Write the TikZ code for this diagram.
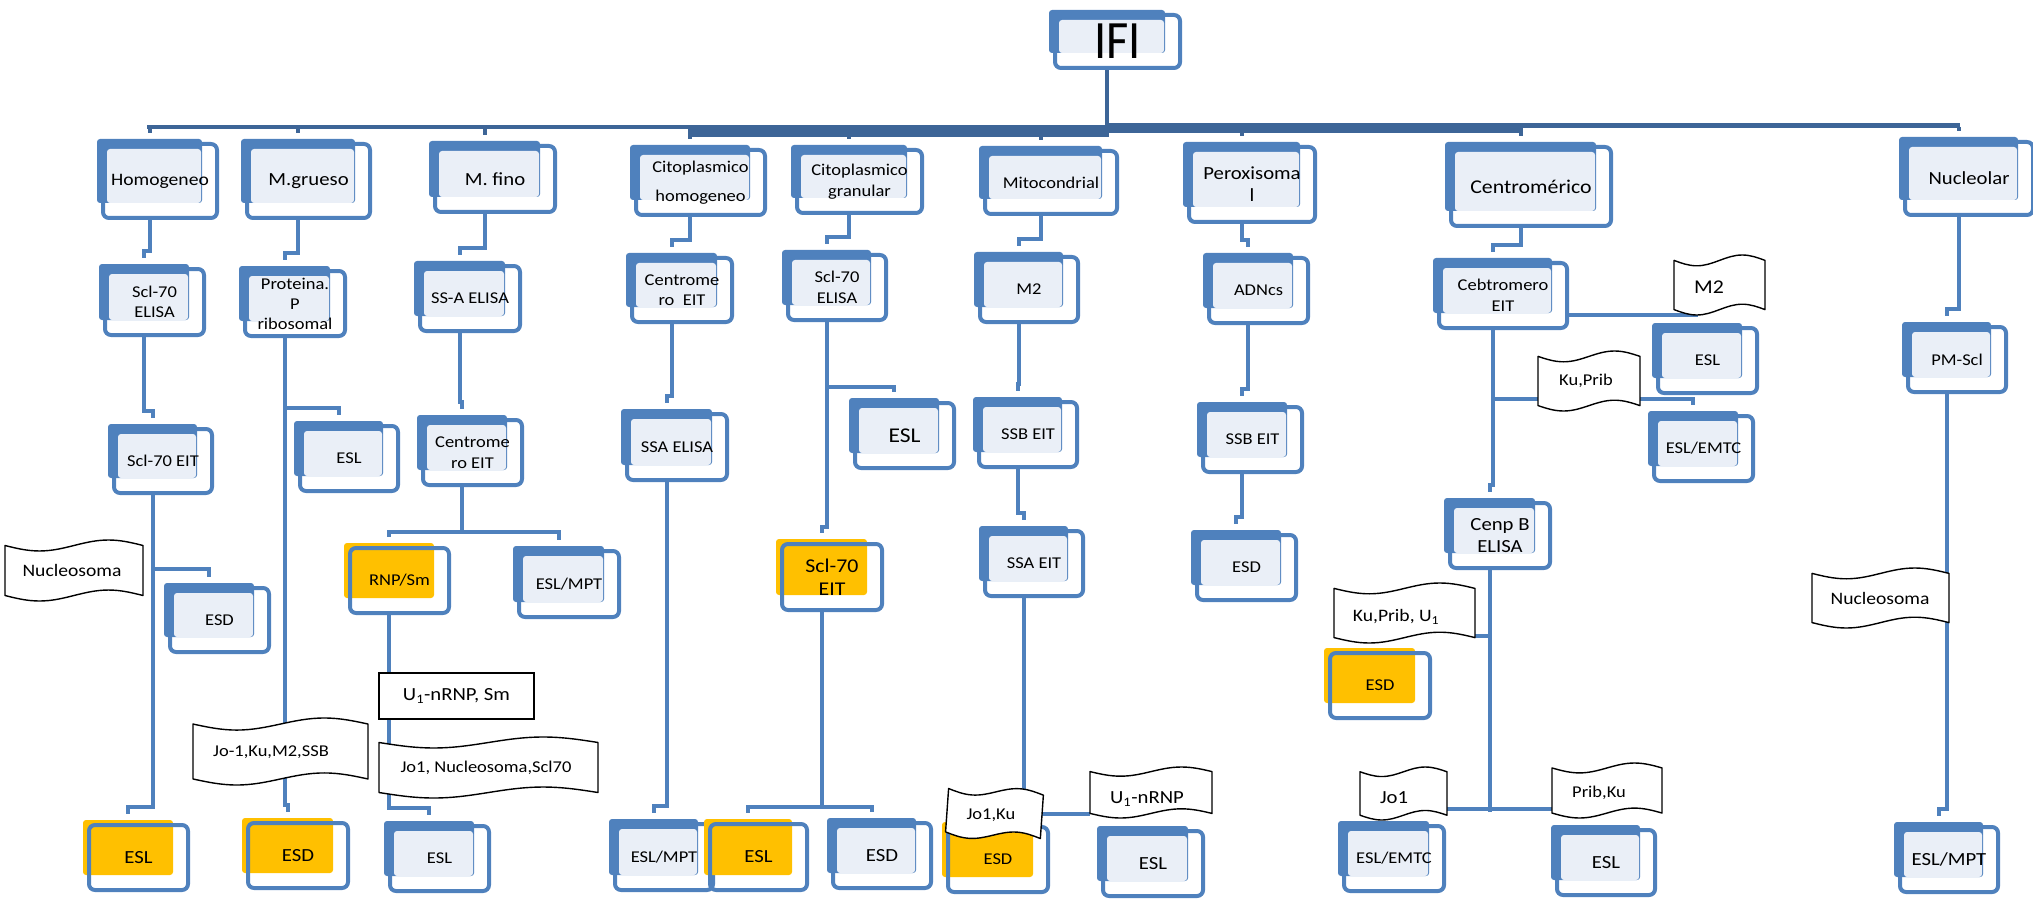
\documentclass[tikz,border=0pt]{standalone}
\usepackage{fontspec}
\setmainfont{Carlito}[FakeStretch=1.12]
\usepackage{graphicx}
\pgfdeclarelayer{bg}
\pgfsetlayers{bg,main}
\definecolor{bblue}{RGB}{79,129,189}
\definecolor{panel}{RGB}{234,239,247}
\definecolor{busc}{RGB}{61,101,151}
\definecolor{ybox}{RGB}{255,192,0}
\tikzset{
  fb/.style={draw=bblue, line width=4pt, rounded corners=6pt, inner sep=0pt, align=center, text=black},
  cn/.style={draw=bblue, line width=4pt},
  bus/.style={draw=busc, line width=4pt},
  flagline/.style={draw=black, line width=1.4pt, fill=white, line join=round},
  ftext/.style={inner sep=0pt, align=center},
  s16/.style={font=\fontsize{16.5}{20.5}\selectfont},
  s17/.style={font=\fontsize{17.5}{21}\selectfont},
  s18/.style={font=\fontsize{18.5}{22}\selectfont},
  s19/.style={font=\fontsize{19.5}{23}\selectfont},
  s21/.style={font=\fontsize{21}{25}\selectfont},
  scho/.style={font=\fontsize{16.5}{29}\selectfont},
  sifi/.style={font=\fontsize{54}{60}\selectfont},
}
% blue box: name, x0,y0,x1,y1 (back rectangle), text
\newcommand\bbx[7][s16]{%
  \fill[bblue, rounded corners=3pt] (#3,#4) rectangle (#5,#6);
  \fill[panel, rounded corners=3pt] ({#3+10},{#4+10}) rectangle ({#5-1},#6);
  \node[fb, #1, minimum width={#5-#3+9}, minimum height={#6-#4+10}] (#2) at ({(#3+#5)/2+10.5},{(#4+#6)/2+10}) {#7};
  \coordinate (#2-n) at ({(#3+#5)/2},#4);
  \coordinate (#2-s) at ({(#3+#5)/2},{#6+15});
}
% yellow box
\newcommand\ybx[7][s16]{%
  \fill[ybox, rounded corners=3pt] (#3,#4) rectangle (#5,#6);
  \node[fb, #1, minimum width={#5-#3+9}, minimum height={#6-#4+10}] (#2) at ({(#3+#5)/2+10.5},{(#4+#6)/2+10}) {#7};
  \coordinate (#2-n) at ({(#3+#5)/2},#4);
  \coordinate (#2-s) at ({(#3+#5)/2},{#6+15});
}
% wave flag: name, x0,y0,x1,y1, text x, text y, text
\newcommand\flag[9][s16]{%
  \pgfmathsetmacro\flW{#5-#3}\pgfmathsetmacro\flH{#6-#4}%
  \pgfmathsetmacro\flA{0.09*\flH}%
  \pgfmathsetmacro\flT{#4+\flA}\pgfmathsetmacro\flB{#6-\flA}%
  \pgfmathsetmacro\flQ{#3+\flW/4}\pgfmathsetmacro\flM{#3+\flW/2}\pgfmathsetmacro\flR{#3+3*\flW/4}%
  \draw[flagline] (#3,\flT) sin (\flQ,{\flT+\flA}) cos (\flM,\flT) sin (\flR,{\flT-\flA}) cos (#5,\flT)
     -- (#5,\flB) sin (\flR,{\flB-\flA}) cos (\flM,\flB) sin (\flQ,{\flB+\flA}) cos (#3,\flB) -- cycle;
  \node[inner sep=0pt, minimum width=\flW, minimum height=\flH] (#2) at ({(#3+#5)/2},{(#4+#6)/2}) {};
  \node[ftext, #1] at (#7,#8) {#9};
}
% elbow connector from parent bottom to child top
\newcommand\jog[3][13]{\draw[cn] (#2-s) |- ([yshift=#1pt]#3-n) -- ([yshift=6pt]#3-n);}
\begin{document}
\begin{tikzpicture}[x=1pt,y=-1pt]
\useasboundingbox (0,0) rectangle (2033,901);
% ---------- boxes ----------
\bbx[sifi]{ifi}{1049}{10}{1165}{53}{\scalebox{0.8}[1]{IFI}}
\bbx[s17]{hom}{97}{139}{202}{203}{Homogeneo}
\bbx[s18]{mgr}{241}{139}{355}{203}{M.grueso}
\bbx[s18]{mfi}{429}{141}{540}{197}{M. fino}
\bbx[scho]{cho}{630}{145}{750}{200}{Citoplasmico\\homogeneo}
\bbx{cgr}{791}{145}{907}{198}{Citoplasmico\\granular}
\bbx{mit}{979}{146}{1102}{199}{Mitocondrial}
\bbx[s18]{per}{1183}{142}{1300}{207}{Peroxisoma\\l}
\bbx[s19]{cen}{1445}{142}{1596}{211}{Centromérico}
\bbx[s18]{nuc}{1899}{137}{2018}{200}{Nucleolar}
% row 2
\bbx{hs70}{99}{264}{189}{320}{Scl-70\\ELISA}
\bbx[font=\fontsize{16.5}{20}\selectfont]{prp}{239}{266}{330}{321}{Proteina.\\P\\ribosomal}
\bbx{ssa}{414}{261}{505}{316}{SS-A ELISA}
\bbx{cen2}{626}{253}{717}{307}{Centrome\\ro~ EIT}
\bbx{gs70}{782}{250}{871}{305}{Scl-70\\ELISA}
\bbx{m2}{974}{252}{1063}{307}{M2}
\bbx{adn}{1203}{253}{1293}{308}{ADNcs}
\bbx{ceb}{1433}{258}{1552}{313}{Cebtromero\\EIT}
% row 3
\bbx{s70eit}{108}{424}{197}{478}{Scl-70 EIT}
\bbx{esl1}{294}{421}{383}{476}{ESL}
\bbx{cen3}{417}{415}{507}{470}{Centrome\\ro EIT}
\bbx{ssael}{621}{409}{712}{465}{SSA ELISA}
\bbx[s21]{esl2}{849}{398}{939}{453}{ESL}
\bbx{ssb1}{973}{397}{1062}{452}{SSB EIT}
\bbx{ssb2}{1197}{402}{1287}{457}{SSB EIT}
\bbx{esl3}{1652}{323}{1742}{378}{ESL}
\bbx{emtc1}{1648}{411}{1738}{466}{ESL/EMTC}
\bbx{pms}{1902}{322}{1991}{377}{PM-Scl}
\bbx[s18]{cenb}{1444}{498}{1535}{553}{Cenp B\\ELISA}
% row 4
\bbx{esd1}{164}{583}{254}{637}{ESD}
\ybx{rnp}{344}{543}{434}{598}{RNP/Sm}
\bbx{mpt1}{513}{546}{604}{602}{ESL/MPT}
\ybx[s19]{ys70}{776}{539}{867}{595}{Scl-70\\EIT}
\bbx{ssaeit}{979}{526}{1068}{581}{SSA EIT}
\bbx{esd2}{1191}{530}{1281}{585}{ESD}
\ybx{yesd}{1324}{648}{1415}{703}{ESD}
% bottom row
\ybx[s18]{yesl}{83}{820}{173}{875}{ESL}
\ybx[s18]{yesd2}{242}{818}{333}{873}{ESD}
\bbx{esl4}{384}{821}{474}{876}{ESL}
\bbx{mpt2}{609}{819}{698}{875}{ESL/MPT}
\ybx[s18]{yesl2}{704}{819}{792}{875}{ESL}
\bbx[s18]{esd3}{827}{818}{916}{873}{ESD}
\ybx{yesd3}{942}{822}{1033}{877}{ESD}
\bbx[s18]{esl5}{1097}{826}{1188}{881}{ESL}
\bbx{emtc2}{1338}{821}{1429}{876}{ESL/EMTC}
\bbx[s18]{esl6}{1551}{825}{1640}{880}{ESL}
\bbx[s18]{mpt3}{1894}{822}{1983}{877}{ESL/MPT}
% ---------- flags ----------
\flag[s17]{f1}{5}{540}{143}{601}{72}{570}{Nucleosoma}
\flag{f2}{193}{718}{368}{785}{271}{752}{Jo-1,Ku,M2,SSB}
\flag{f3}{379}{737}{598}{798}{486}{768}{Jo1, Nucleosoma,Scl70}
\begin{scope}[rotate around={-4:(994,813)}]
\flag{f4}{947}{787}{1042}{840}{991}{815}{Jo1,Ku}
\end{scope}
\flag[s18]{f5}{1090}{767}{1212}{818}{1147}{799}{U\textsubscript{1}-nRNP}
\flag[s19]{f6}{1674}{255}{1765}{315}{1709}{287}{M2}
\flag{f7}{1538}{351}{1640}{411}{1586}{381}{Ku,Prib}
\flag[s17]{f8}{1334}{583}{1475}{643}{1396}{617}{Ku,Prib, U\textsubscript{1}}
\flag[s18]{f9}{1360}{767}{1447}{820}{1394}{798}{Jo1}
\flag{f10}{1552}{763}{1662}{818}{1599}{793}{Prib,Ku}
\flag[s17]{f11}{1812}{568}{1949}{628}{1880}{598}{Nucleosoma}
\node[draw=black, line width=1.4pt, fill=white, minimum width=155, minimum height=46, inner sep=0pt, s18] (r1) at (456.5,696) {U\textsubscript{1}-nRNP, Sm};
% ---------- connectors ----------
\begin{pgfonlayer}{bg}
\draw[bus] (ifi-s) -- (ifi-s |- 0,126);
\draw[busc, line width=4pt] (147,127) -- (688,127);
\draw[busc, line width=12pt] (688,131) -- (1109,131);
\draw[busc, line width=10pt] (1109,128) -- (1522,128);
\draw[busc, line width=5pt] (1522,125.5) -- (1960,125.5);
\foreach \c in {hom,mgr,mfi,cho,cgr,mit,per,cen,nuc}
  \draw[bus] (\c-n |- 0,127) -- ([yshift=6pt]\c-n);
\jog{hom}{hs70} \jog{mgr}{prp} \jog{mfi}{ssa} \jog{cho}{cen2} \jog{cgr}{gs70}
\jog{mit}{m2} \jog{per}{adn} \jog{cen}{ceb} \jog{nuc}{pms}
\jog{hs70}{s70eit} \jog{prp}{esl1} \jog{prp}{yesd2} \jog{ssa}{cen3} \jog{cen2}{ssael}
\jog[11]{gs70}{esl2} \jog[12]{gs70}{ys70} \jog{m2}{ssb1} \jog{ssb1}{ssaeit}
\jog{adn}{ssb2} \jog{ssb2}{esd2} \jog{ceb}{cenb} \jog[12]{ceb}{emtc1}
\jog[11]{cen3}{rnp} \jog[14]{cen3}{mpt1}
\jog{s70eit}{yesl} \jog[14]{s70eit}{esd1}
\jog{rnp}{esl4} \jog{ssael}{mpt2} \jog[12]{ys70}{yesl2} \jog[11]{ys70}{esd3} \jog{pms}{mpt3}
\draw[cn] (ceb.east |- f6.south) -- ([xshift=24pt]f6.south west);
\draw[cn] (cenb-s) -- (cenb-s |- 0,812);
\draw[cn] (f8.east |- 0,636) -- (cenb-s |- 0,636);
\draw[cn] (f9.east |- 0,809) -- (f10.west |- 0,809);
\draw[cn] (ssaeit-s) -- (ssaeit-s |- f4.east) -- (f5.west |- f4.east);
\end{pgfonlayer}
\end{tikzpicture}
\end{document}
